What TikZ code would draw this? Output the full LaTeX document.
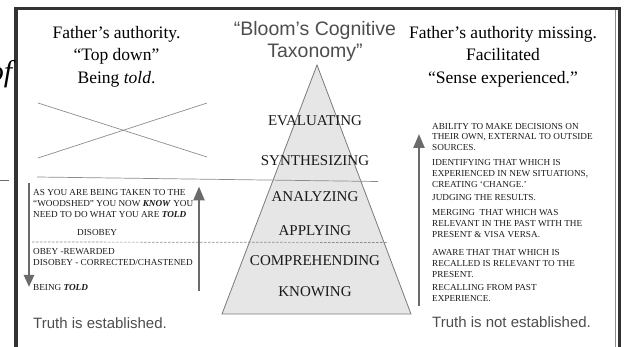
\documentclass[tikz,border=0pt]{standalone}
\usepackage{fontspec}
\setmainfont{Liberation Serif}
\setsansfont{Liberation Sans}
\usetikzlibrary{positioning,arrows.meta}

\definecolor{framegray}{HTML}{333333}
\definecolor{titlegray}{HTML}{4D4D4D}
\definecolor{arrowgray}{HTML}{6B6B6B}
\definecolor{linegray}{HTML}{8C8C8C}
\definecolor{pyrfill}{HTML}{E6E6E6}
\definecolor{pyrline}{HTML}{7A7A7A}
\definecolor{lvltext}{HTML}{1A1A1A}

\begin{document}
\begin{tikzpicture}[x=1pt,y=-1pt,
  title/.style={align=center,anchor=north,inner sep=0pt,text=black,font=\fontsize{17.5}{22.5}\selectfont},
  bloom/.style={align=center,anchor=north,inner sep=0pt,text=titlegray,font=\sffamily\fontsize{19.5}{22}\selectfont},
  tierlabel/.style={inner sep=0pt,text=lvltext,font=\fontsize{15}{18}\selectfont},
  capsblock/.style={align=left,anchor=north west,inner sep=0pt,text=lvltext,font=\fontsize{9.2}{10.7}\selectfont},
  truth/.style={anchor=west,inner sep=0pt,text=titlegray,font=\sffamily\fontsize{15}{18}\selectfont},
  bigarrow/.style={draw=arrowgray,line width=2.4pt,-{Triangle[length=14pt,width=11pt]}},
  faint/.style={draw=linegray,line width=0.7pt}
  ]
  \useasboundingbox (0,0) rectangle (625,347);

  % frame
  \draw[framegray,line width=3pt] (15.5,360) rectangle (619,9);
  \draw[framegray,line width=4pt] (15.5,9) -- (15.5,360);
  \draw[linegray,line width=0.8pt] (615.5,10.5) -- (615.5,360);
  \node[anchor=base east,inner sep=0pt,font=\itshape\fontsize{30}{30}\selectfont] (ofword) at (12.5,82) {of};
  \draw[arrowgray,line width=0.8pt] (0,180) -- (9,180);

  % pyramid
  \coordinate (apex) at (317,65);
  \coordinate (baseL) at (222,314);
  \coordinate (baseR) at (411,314);
  \filldraw[fill=pyrfill,draw=pyrline,line width=0.8pt] (apex) -- (baseR) -- (baseL) -- cycle;

  \node[tierlabel] (evaluating) at (315,120.7) {EVALUATING};
  \node[tierlabel] (synthesizing) at (315,160.7) {SYNTHESIZING};
  \node[tierlabel] (analyzing) at (315,196.5) {ANALYZING};
  \node[tierlabel] (applying) at (315,230.7) {APPLYING};
  \node[tierlabel] (comprehending) at (315,261) {COMPREHENDING};
  \node[tierlabel] (knowing) at (315,291.5) {KNOWING};

  % titles
  \node[title] (authority) at (116.5,26) {Father’s authority.\\“Top down”\\Being \textit{told}.};
  \node[bloom] (bloom) at (315,21) {“Bloom’s Cognitive\\Taxonomy”};
  \node[title] (missing) at (503,26) {Father’s authority missing.\\Facilitated\\“Sense experienced.”};

  % crossed out
  \coordinate (xa) at (38,103);
  \coordinate (xb) at (207,157);
  \coordinate (xc) at (207,103);
  \coordinate (xd) at (38,158);
  \draw[faint] (xa) -- (xb);
  \draw[faint] (xc) -- (xd);

  % dividers
  \coordinate (solidL) at (37,177);
  \coordinate (solidR) at (378,181.5);
  \coordinate (dashL) at (32,242);
  \coordinate (dashR) at (388,242.5);
  \draw[faint] (solidL) -- (solidR);
  \draw[faint,dashed,dash pattern=on 2.5pt off 1.5pt] (dashL) -- (dashR);

  % left side
  \node[capsblock] (woodshed) at (33,189.7) {AS YOU ARE BEING TAKEN TO THE\\“WOODSHED” YOU NOW \textbf{\textit{KNOW}} YOU\\NEED TO DO WHAT YOU ARE \textbf{\textit{TOLD}}};
  \node[capsblock] (disobey) at (77,229) {DISOBEY};
  \node[capsblock] (obey) at (33,248.7) {OBEY -REWARDED\\DISOBEY - CORRECTED/CHASTENED};
  \node[capsblock] (told) at (33,284) {BEING \textbf{\textit{TOLD}}};

  \coordinate (downS) at (29,183);
  \coordinate (downE) at (29,287);
  \coordinate (upS) at (199,291);
  \coordinate (upE) at (199,186.5);
  \draw[bigarrow,-{Triangle[length=12pt,width=10pt]}] (downS) -- (downE);
  \draw[bigarrow] (upS) -- (upE);

  \node[truth] (established) at (33,322.7) {Truth is established.};

  % right side
  \node[capsblock] (ability) at (432,123) {ABILITY TO MAKE DECISIONS ON\\THEIR OWN, EXTERNAL TO OUTSIDE\\SOURCES.};
  \node[capsblock] (identifying) at (432,159.7) {IDENTIFYING THAT WHICH IS\\EXPERIENCED IN NEW SITUATIONS,\\CREATING ‘CHANGE.’};
  \node[capsblock] (judging) at (432,194.3) {JUDGING THE RESULTS.};
  \node[capsblock] (merging) at (432,209.7) {MERGING\ \ THAT WHICH WAS\\RELEVANT IN THE PAST WITH THE\\PRESENT \& VISA VERSA.};
  \node[capsblock] (aware) at (432,249.7) {AWARE THAT THAT WHICH IS\\RECALLED IS RELEVANT TO THE\\PRESENT.};
  \node[capsblock] (recalling) at (432,284.3) {RECALLING FROM PAST\\EXPERIENCE.};

  \coordinate (riseS) at (419,306);
  \coordinate (riseE) at (419,134);
  \draw[bigarrow] (riseS) -- (riseE);

  \node[truth] (notestablished) at (432,322) {Truth is not established.};
\end{tikzpicture}
\end{document}
